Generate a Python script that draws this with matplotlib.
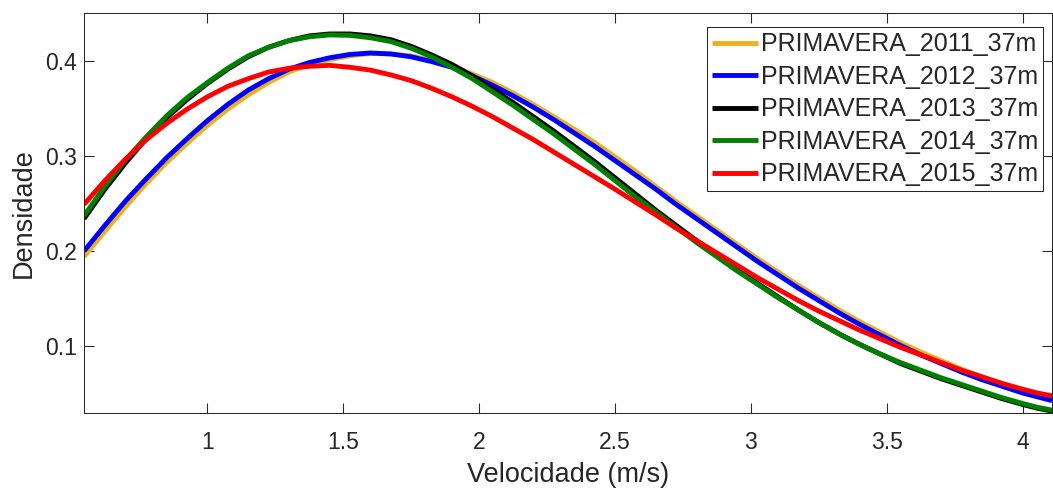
import matplotlib
matplotlib.use('Agg')
import matplotlib.pyplot as plt

plt.rcParams['font.family'] = ['Liberation Sans', 'DejaVu Sans']

# values
velocidade = [0.546, 0.623, 0.70, 0.775, 0.85, 0.925, 1.00, 1.075, 1.15, 1.225, 1.30, 1.375,
              1.45, 1.525, 1.60, 1.675, 1.75, 1.825, 1.90, 1.975, 2.05, 2.125, 2.20, 2.275,
              2.35, 2.425, 2.50, 2.575, 2.65, 2.725, 2.80, 2.875, 2.95, 3.025, 3.10, 3.175,
              3.25, 3.325, 3.40, 3.475, 3.55, 3.625, 3.70, 3.775, 3.85, 3.925, 4.00, 4.054,
              4.108]

primavera_2011 = [0.194, 0.221, 0.247, 0.271, 0.293, 0.313, 0.332, 0.349, 0.364, 0.377, 0.388,
                  0.396, 0.401, 0.405, 0.4075, 0.407, 0.405, 0.400, 0.394, 0.386, 0.377, 0.366,
                  0.354, 0.341, 0.328, 0.314, 0.299, 0.284, 0.268, 0.252, 0.237, 0.222, 0.207,
                  0.192, 0.178, 0.164, 0.151, 0.138, 0.126, 0.115, 0.104, 0.094, 0.085, 0.076,
                  0.068, 0.060, 0.053, 0.049, 0.045]
primavera_2012 = [0.200, 0.227, 0.253, 0.276, 0.298, 0.318, 0.337, 0.354, 0.369, 0.381, 0.391,
                  0.398, 0.403, 0.4065, 0.408, 0.407, 0.404, 0.399, 0.393, 0.384, 0.374, 0.363,
                  0.351, 0.338, 0.324, 0.310, 0.295, 0.280, 0.265, 0.249, 0.234, 0.219, 0.204,
                  0.189, 0.175, 0.161, 0.148, 0.135, 0.123, 0.112, 0.101, 0.091, 0.082, 0.073,
                  0.065, 0.058, 0.051, 0.047, 0.043]
primavera_2013 = [0.234, 0.265, 0.293, 0.318, 0.340, 0.359, 0.376, 0.391, 0.404, 0.414, 0.421,
                  0.426, 0.428, 0.428, 0.426, 0.422, 0.415, 0.406, 0.396, 0.384, 0.370, 0.356,
                  0.341, 0.326, 0.310, 0.294, 0.277, 0.260, 0.243, 0.227, 0.211, 0.195, 0.180,
                  0.166, 0.152, 0.138, 0.125, 0.113, 0.102, 0.092, 0.082, 0.074, 0.066, 0.059,
                  0.052, 0.045, 0.039, 0.035, 0.032]
primavera_2014 = [0.237, 0.268, 0.296, 0.320, 0.342, 0.361, 0.377, 0.392, 0.405, 0.414, 0.421,
                  0.425, 0.427, 0.4265, 0.424, 0.420, 0.413, 0.404, 0.393, 0.381, 0.367, 0.353,
                  0.338, 0.323, 0.307, 0.291, 0.274, 0.257, 0.241, 0.225, 0.209, 0.194, 0.179,
                  0.165, 0.151, 0.138, 0.125, 0.113, 0.102, 0.092, 0.083, 0.075, 0.067, 0.060,
                  0.053, 0.046, 0.040, 0.036, 0.033]
primavera_2015 = [0.249, 0.274, 0.297, 0.317, 0.334, 0.349, 0.362, 0.373, 0.381, 0.388, 0.392,
                  0.394, 0.395, 0.393, 0.390, 0.385, 0.379, 0.371, 0.362, 0.352, 0.341, 0.329,
                  0.317, 0.304, 0.291, 0.278, 0.265, 0.2515, 0.238, 0.224, 0.211, 0.198, 0.185,
                  0.172, 0.160, 0.148, 0.137, 0.127, 0.117, 0.108, 0.099, 0.091, 0.083, 0.075,
                  0.068, 0.061, 0.055, 0.051, 0.048]

series_names = ['PRIMAVERA_2011_37m', 'PRIMAVERA_2012_37m', 'PRIMAVERA_2013_37m',
                'PRIMAVERA_2014_37m', 'PRIMAVERA_2015_37m']
series_values = [primavera_2011, primavera_2012, primavera_2013, primavera_2014, primavera_2015]
series_colors = ['#EDB120', '#0000FF', '#000000', '#008000', '#FF0000']

xticks = [1, 1.5, 2, 2.5, 3, 3.5, 4]
xtick_labels = ['1', '1.5', '2', '2.5', '3', '3.5', '4']
yticks = [0.1, 0.2, 0.3, 0.4]
ytick_labels = ['0.1', '0.2', '0.3', '0.4']

W, H = 1053, 488
fig = plt.figure(figsize=(W / 100, H / 100), dpi=100)
ax = fig.add_axes([84 / W, 1 - 413 / H, 968 / W, 400 / H])

for name, ys, color in zip(series_names, series_values, series_colors):
    ax.plot(velocidade, ys, color=color, lw=3.5, label=name,
            solid_joinstyle='round', solid_capstyle='butt')

ax.set_xlim(0.546, 4.108)
ax.set_ylim(0.03, 0.45)
ax.set_xticks(xticks)
ax.set_xticklabels(xtick_labels)
ax.set_yticks(yticks)
ax.set_yticklabels(ytick_labels)

axcol = '#262626'
ax.tick_params(direction='in', length=7.5, width=0.75, top=True, right=True,
               labelsize=16.5, color=axcol, labelcolor=axcol)
ax.tick_params(axis='x', pad=13)
ax.tick_params(axis='y', pad=5)
for sp in ax.spines.values():
    sp.set_linewidth(0.75)
    sp.set_color(axcol)

ax.set_xlabel('Velocidade (m/s)', fontsize=19.5, color=axcol, labelpad=6)
ax.set_ylabel('Densidade', fontsize=19.5, color=axcol, labelpad=6)

leg = ax.legend(loc='upper right', bbox_to_anchor=(0.991, 0.964), borderaxespad=0,
                fontsize=18, handlelength=1.86, handletextpad=0.12, labelspacing=0.34,
                borderpad=0.2, fancybox=False, framealpha=1)
leg.get_frame().set_edgecolor(axcol)
leg.get_frame().set_linewidth(0.75)
for t in leg.get_texts():
    t.set_color(axcol)

fig.savefig('out.png', dpi=100)
